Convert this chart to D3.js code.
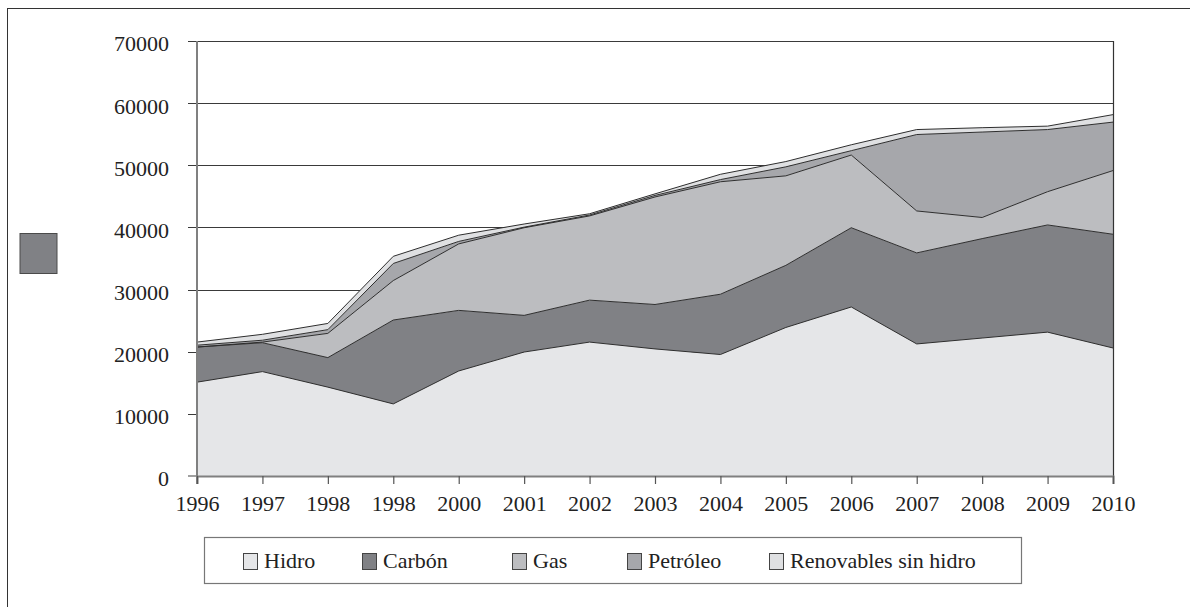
<!DOCTYPE html>
<html>
<head>
<meta charset="utf-8">
<script src="https://cdn.jsdelivr.net/npm/d3@7"></script>
<style>
  html, body { margin: 0; padding: 0; background: #ffffff; }
  svg { display: block; }
  text { font-family: "Liberation Serif", "DejaVu Serif", serif; fill: #222; }
</style>
</head>
<body>
<svg id="chart" width="1198" height="607"></svg>
<script>
// ---- data ----
const years = ["1996","1997","1998","1998","2000","2001","2002","2003","2004","2005","2006","2007","2008","2009","2010"];
const hidro      = [15100, 16800, 14300, 11600, 16900, 19950, 21550, 20450, 19550, 23900, 27200, 21250, 22200, 23150, 20600];
const carbon     = [5650, 4650, 4750, 13500, 9750, 5900, 6750, 7150, 9700, 10000, 12750, 14650, 16000, 17250, 18300];
const gas        = [0, 100, 3900, 6350, 10700, 14100, 13550, 17300, 18100, 14400, 11700, 6750, 3400, 5350, 10250];
const petroleo   = [300, 300, 600, 2750, 400, 100, 150, 250, 350, 1450, 700, 12300, 13750, 10000, 7800];
const renovables = [500, 950, 1000, 1150, 1000, 500, 200, 250, 850, 850, 950, 800, 700, 550, 1200];
const seriesNames = ["Hidro", "Carbón", "Gas", "Petróleo", "Renovables sin hidro"];
const yTicks = [0, 10000, 20000, 30000, 40000, 50000, 60000, 70000];

// ---- styles ----
const colors = ["#e5e6e8", "#808185", "#bcbdc0", "#a6a7ab", "#dfe0e2"];

const svg = d3.select("#chart");

// outer frame (top and left edges visible)
svg.append("line").attr("x1", 7).attr("x2", 1190).attr("y1", 8.5).attr("y2", 8.5)
  .attr("stroke", "#333").attr("stroke-width", 1);
svg.append("line").attr("x1", 7.5).attr("x2", 7.5).attr("y1", 8).attr("y2", 607)
  .attr("stroke", "#333").attr("stroke-width", 1);

// stray gray square on the left
svg.append("rect").attr("x", 20).attr("y", 233.5).attr("width", 37).attr("height", 40)
  .attr("fill", "#808185").attr("stroke", "#4a4a4a").attr("stroke-width", 1);

const x0 = 197, x1 = 1113, yBottom = 476, yTop = 41;
const idx = years.map((d, i) => i);
const x = d3.scalePoint().domain(idx).range([x0, x1]);
const y = d3.scaleLinear().domain([0, 70000]).range([yBottom, yTop]);

// gridlines (act also as y ticks)
const grid = svg.append("g");
grid.selectAll("line").data(yTicks.filter(t => t > 0)).join("line")
  .attr("x1", 188).attr("x2", x1)
  .attr("y1", d => Math.round(y(d)) + 0.5).attr("y2", d => Math.round(y(d)) + 0.5)
  .attr("stroke", "#3a3a3a").attr("stroke-width", 1);

// stacked data
const table = idx.map(i => ({
  i,
  "Hidro": hidro[i], "Carbón": carbon[i], "Gas": gas[i],
  "Petróleo": petroleo[i], "Renovables sin hidro": renovables[i]
}));
const stack = d3.stack().keys(seriesNames);
const layers = stack(table);

const area = d3.area().x(d => x(d.data.i)).y0(d => y(d[0])).y1(d => y(d[1]));
const topLine = d3.line().x(d => x(d.data.i)).y(d => y(d[1]));

svg.append("g").selectAll("path").data(layers).join("path")
  .attr("d", area).attr("fill", (d, i) => colors[i]).attr("stroke", "none");
svg.append("g").selectAll("path").data(layers).join("path")
  .attr("d", topLine).attr("fill", "none")
  .attr("stroke", "#2e2e2e").attr("stroke-width", 1).attr("stroke-linejoin", "round");

// y axis line
svg.append("line").attr("x1", x0).attr("x2", x0).attr("y1", yTop).attr("y2", yBottom + 8)
  .attr("stroke", "#808080").attr("stroke-width", 2);
// y axis 0 tick
svg.append("line").attr("x1", 188).attr("x2", x0).attr("y1", yBottom).attr("y2", yBottom)
  .attr("stroke", "#808080").attr("stroke-width", 1.5);
// right border
svg.append("line").attr("x1", x1 + 0.5).attr("x2", x1 + 0.5).attr("y1", yTop).attr("y2", yBottom + 8)
  .attr("stroke", "#333").attr("stroke-width", 1.2);

// x axis via d3.axisBottom
const xAxis = d3.axisBottom(x).tickSize(8).tickPadding(11).tickFormat(i => years[i]);
const gx = svg.append("g").attr("transform", `translate(0,${yBottom})`).call(xAxis);
gx.select(".domain").attr("stroke", "#808080").attr("stroke-width", 2);
gx.selectAll(".tick line").attr("stroke", "#555").attr("stroke-width", 1.2);
gx.selectAll(".tick text").attr("font-family", "Liberation Serif").attr("font-size", 22)
  .attr("fill", "#222");

// y labels
const yAxis = d3.axisLeft(y).tickValues(yTicks).tickSize(0).tickPadding(28).tickFormat(d3.format("d"));
const gy = svg.append("g").attr("transform", `translate(${x0},0)`).call(yAxis);
gy.select(".domain").remove();
gy.selectAll(".tick text").attr("font-family", "Liberation Serif").attr("font-size", 22)
  .attr("fill", "#222").attr("dy", "0.45em");

// legend
const lg = svg.append("g");
lg.append("rect").attr("x", 204.5).attr("y", 537.5).attr("width", 817).attr("height", 46)
  .attr("fill", "#fff").attr("stroke", "#777").attr("stroke-width", 1.2);
const legendX = [243, 362, 512, 627, 769];
seriesNames.forEach((name, i) => {
  lg.append("rect").attr("x", legendX[i] + 0.5).attr("y", 553.5).attr("width", 14).attr("height", 16)
    .attr("fill", colors[i]).attr("stroke", "#444").attr("stroke-width", 1);
  lg.append("text").attr("x", legendX[i] + 21).attr("y", 568)
    .attr("font-size", 22).text(name);
});
</script>
</body>
</html>
